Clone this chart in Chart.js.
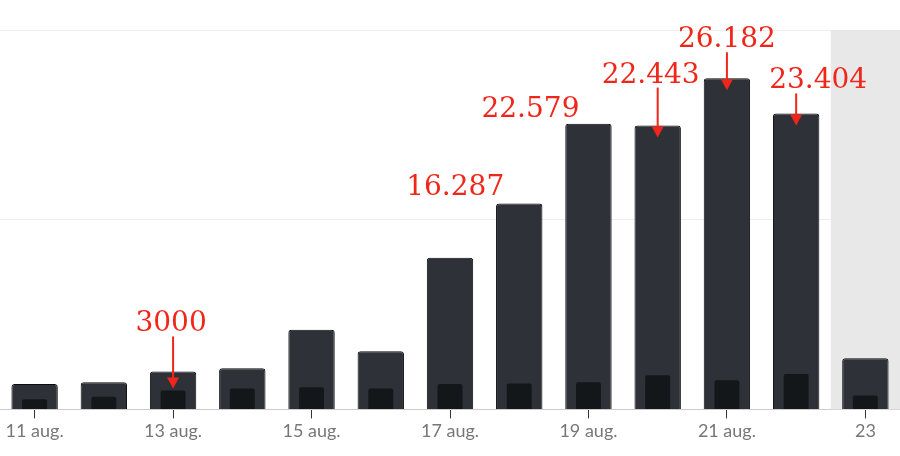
<!DOCTYPE html>
<html><head><meta charset="utf-8">
<script src="https://cdn.jsdelivr.net/npm/chart.js@4"></script>
<style>html,body{margin:0;padding:0;background:#fff}#w{width:900px;height:456px}</style>
</head><body><div id="w"><canvas id="c"></canvas></div>
<script>
const categories = ["11 aug.","12 aug.","13 aug.","14 aug.","15 aug.","16 aug.","17 aug.","18 aug.","19 aug.","20 aug.","21 aug.","22 aug.","23"];
const totalValues = [2000,2150,3000,3250,6300,4600,12000,16287,22579,22443,26182,23404,4050];
const innerValues = [800,1000,1500,1650,1750,1650,2000,2050,2150,2700,2300,2800,1100];
const annotations = [
  {i:2, text:"3000", dx:-2, dy:-40, arrow:true, target:1500},
  {i:7, text:"16.287", dx:-64, dy:-8, arrow:false},
  {i:8, text:"22.579", dx:-58, dy:-7, arrow:false},
  {i:9, text:"22.443", dx:-7, dy:-43, arrow:true},
  {i:10, text:"26.182", dx:0, dy:-31, arrow:true},
  {i:11, text:"23.404", dx:22, dy:-25, arrow:true}
];
const annotPlugin = {
  id:'annot',
  beforeDatasetsDraw(chart){
    const {ctx, scales:{x,y}} = chart;
    const l = x.getPixelForValue(11.5), r = x.getPixelForValue(12.5);
    ctx.save(); ctx.fillStyle='#e8e8e8';
    ctx.fillRect(l, y.getPixelForValue(30000), r-l, y.getPixelForValue(0)-y.getPixelForValue(30000));
    ctx.restore();
  },
  afterDatasetsDraw(chart){
    const {ctx, scales:{x,y}} = chart;
    ctx.save();
    ctx.fillStyle='#f0261a'; ctx.strokeStyle='#f0261a'; ctx.lineWidth=2;
    ctx.font='28px "DejaVu Serif", serif'; ctx.textAlign='center'; ctx.textBaseline='alphabetic';
    annotations.forEach(a=>{
      const bx = x.getPixelForValue(a.i);
      const by = y.getPixelForValue(totalValues[a.i]);
      const tx = bx + a.dx, ty = by + a.dy;
      ctx.fillText(a.text, tx, ty);
      if(a.arrow){
        const endY = a.target!==undefined ? y.getPixelForValue(a.target) - 2 : by + 12;
        const ax = bx;
        ctx.beginPath(); ctx.moveTo(ax, ty+5); ctx.lineTo(ax, endY-8); ctx.stroke();
        ctx.beginPath(); ctx.moveTo(ax, endY); ctx.lineTo(ax-6, endY-11); ctx.lineTo(ax+6, endY-11); ctx.closePath(); ctx.fill();
      }
    });
    ctx.restore();
  }
};
new Chart(document.getElementById('c'), {
  type:'bar',
  data:{labels:categories, datasets:[
    {data:innerValues, backgroundColor:'#131719', barPercentage:0.36, categoryPercentage:1, borderRadius:2, order:1},
    {data:totalValues, backgroundColor:'#2e3238', borderColor:'#0b0b0b', borderWidth:1, borderSkipped:'bottom', borderRadius:3, barPercentage:0.67, categoryPercentage:1, order:2}
  ]},
  options:{
    responsive:true, maintainAspectRatio:false, animation:false,
    datasets:{bar:{grouped:false}},
    layout:{padding:{top:30,left:0,right:0,bottom:12}},
    plugins:{legend:{display:false}, tooltip:{enabled:false}},
    scales:{
      x:{stacked:false, grid:{offset:false, drawOnChartArea:false, tickLength:9, color:c=>c.index%2===0?'#333':'transparent'},
         border:{color:'#ccc'},
         ticks:{autoSkip:false, maxRotation:0, color:'#777', font:{size:18, family:'Lato, sans-serif'}, padding:2,
                callback:(v,i)=>i%2===0?categories[i]:''}},
      y:{min:0,max:30000, ticks:{display:false, stepSize:15000}, border:{display:false}, grid:{color:'#eeeeee', drawTicks:false}}
    }
  },
  plugins:[annotPlugin]
});
</script></body></html>
